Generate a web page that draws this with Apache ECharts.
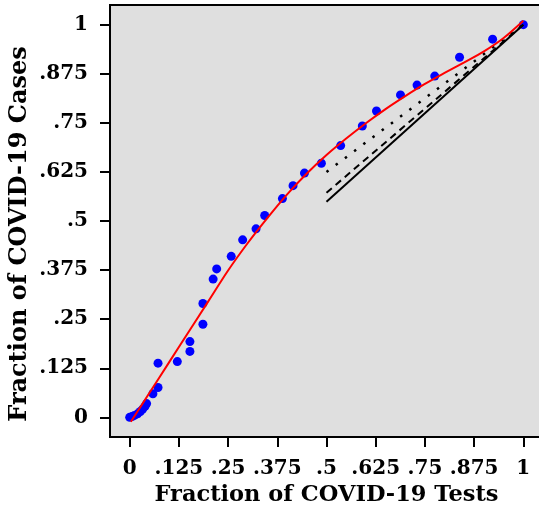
<!DOCTYPE html>
<html>
<head>
<meta charset="utf-8">
<script src="https://cdn.jsdelivr.net/npm/echarts@6/dist/echarts.min.js"></script>
<style>
html,body{margin:0;padding:0;background:#ffffff;}
#chart{width:539px;height:513px;}
</style>
</head>
<body>
<div id="chart"></div>
<script>
// Observed points: fraction of tests (x) vs fraction of cases (y)
const testsFrac = [0, 0.006, 0.012, 0.02, 0.027, 0.033, 0.039, 0.043,
  0.059, 0.072, 0.072, 0.121, 0.153, 0.153, 0.186, 0.186, 0.212, 0.221,
  0.258, 0.287, 0.321, 0.343, 0.388, 0.415, 0.444, 0.487, 0.536, 0.591,
  0.627, 0.688, 0.730, 0.775, 0.838, 0.922, 1];
const casesFrac = [0, 0.002, 0.005, 0.009, 0.015, 0.021, 0.028, 0.035,
  0.060, 0.076, 0.138, 0.142, 0.168, 0.193, 0.237, 0.290, 0.352, 0.378,
  0.410, 0.452, 0.480, 0.514, 0.557, 0.590, 0.622, 0.647, 0.692, 0.742,
  0.780, 0.821, 0.846, 0.869, 0.917, 0.963, 1];

// Red fitted curve
const fitX = [0.003, 0.05, 0.1, 0.15, 0.2, 0.25, 0.3, 0.35, 0.4, 0.45,
  0.5, 0.55, 0.6, 0.65, 0.7, 0.75, 0.8, 0.85, 0.9, 0.95, 1.0];
const fitY = [-0.011, 0.062, 0.140, 0.218, 0.296, 0.374, 0.444, 0.508, 0.568, 0.621,
  0.668, 0.710, 0.749, 0.785, 0.818, 0.849, 0.877, 0.904, 0.932, 0.966, 1.010];

// Black reference segments (x, y endpoints)
const solidX = [0.5, 1];  const solidY = [0.549, 1];
const dashX  = [0.5, 1];  const dashY  = [0.572, 1];
const dotX   = [0.5, 1];  const dotY   = [0.625, 1];

// Ticks
const tickVals = [0, 0.125, 0.25, 0.375, 0.5, 0.625, 0.75, 0.875, 1];
const xTickLabels = ['0', '.125', '.25', '.375', '.5', '.625', '.75', '.875', '1'];
const yTickLabels = ['0', '.125', '.25', '.375', '.5', '.625', '.75', '.875', '1'];

const xTitle = 'Fraction of COVID-19 Tests';
const yTitle = 'Fraction of COVID-19 Cases';

const zip = (a, b) => a.map((v, i) => [v, b[i]]);
const fmt = labels => v => {
  const i = tickVals.findIndex(t => Math.abs(t - v) < 1e-9);
  return i >= 0 ? labels[i] : '';
};

const FONT = 'DejaVu Serif';
const chart = echarts.init(document.getElementById('chart'), null, {renderer: 'canvas'});
chart.setOption({
  animation: false,
  backgroundColor: '#ffffff',
  grid: {
    left: 110, top: 5, width: 433, height: 432, outerBoundsMode: 'none', containLabel: false,
    show: true, backgroundColor: '#dfdfdf', borderColor: '#000', borderWidth: 2
  },
  xAxis: {
    type: 'value', min: -0.05, max: 1.05,
    axisLine: {show: true, onZero: false, lineStyle: {color: '#000', width: 2}},
    axisTick: {show: true, customValues: tickVals, length: 10, inside: false, lineStyle: {color: '#000', width: 2}},
    axisLabel: {customValues: tickVals, formatter: fmt(xTickLabels), margin: 22, hideOverlap: false,
      color: '#000', fontFamily: FONT, fontWeight: 'bold', fontSize: 20},
    splitLine: {show: false},
    name: xTitle, nameLocation: 'middle', nameGap: 44,
    nameTextStyle: {color: '#000', fontFamily: FONT, fontWeight: 'bold', fontSize: 22.5}
  },
  yAxis: {
    type: 'value', min: -0.05, max: 1.05,
    axisLine: {show: true, onZero: false, lineStyle: {color: '#000', width: 2}},
    axisTick: {show: true, customValues: tickVals, length: 10, inside: false, lineStyle: {color: '#000', width: 2}},
    axisLabel: {customValues: tickVals, formatter: fmt(yTickLabels), margin: 22, hideOverlap: false,
      color: '#000', fontFamily: FONT, fontWeight: 'bold', fontSize: 20},
    splitLine: {show: false}
  },
  graphic: [{
    type: 'text', x: 20, y: 234, rotation: Math.PI / 2,
    style: {text: yTitle, fill: '#000', align: 'center', verticalAlign: 'middle',
      font: 'bold 24px "DejaVu Serif"'}
  }],
  series: [
    {type: 'scatter', data: zip(testsFrac, casesFrac), symbol: 'circle', symbolSize: 9,
      itemStyle: {color: '#0000ff', opacity: 1}, z: 2},
    {type: 'line', data: zip(solidX, solidY), showSymbol: false, symbol: 'none',
      lineStyle: {color: '#000', width: 2, type: 'solid'}, z: 3},
    {type: 'line', data: zip(dashX, dashY), showSymbol: false, symbol: 'none',
      lineStyle: {color: '#000', width: 2, type: [7, 5]}, z: 3},
    {type: 'line', data: zip(dotX, dotY), showSymbol: false, symbol: 'none',
      lineStyle: {color: '#000', width: 2.5, type: [2.5, 9]}, z: 3},
    {type: 'line', data: zip(fitX, fitY), showSymbol: false, symbol: 'none', smooth: 0.3,
      lineStyle: {color: '#ff0000', width: 2}, z: 4}
  ]
});
</script>
</body>
</html>
